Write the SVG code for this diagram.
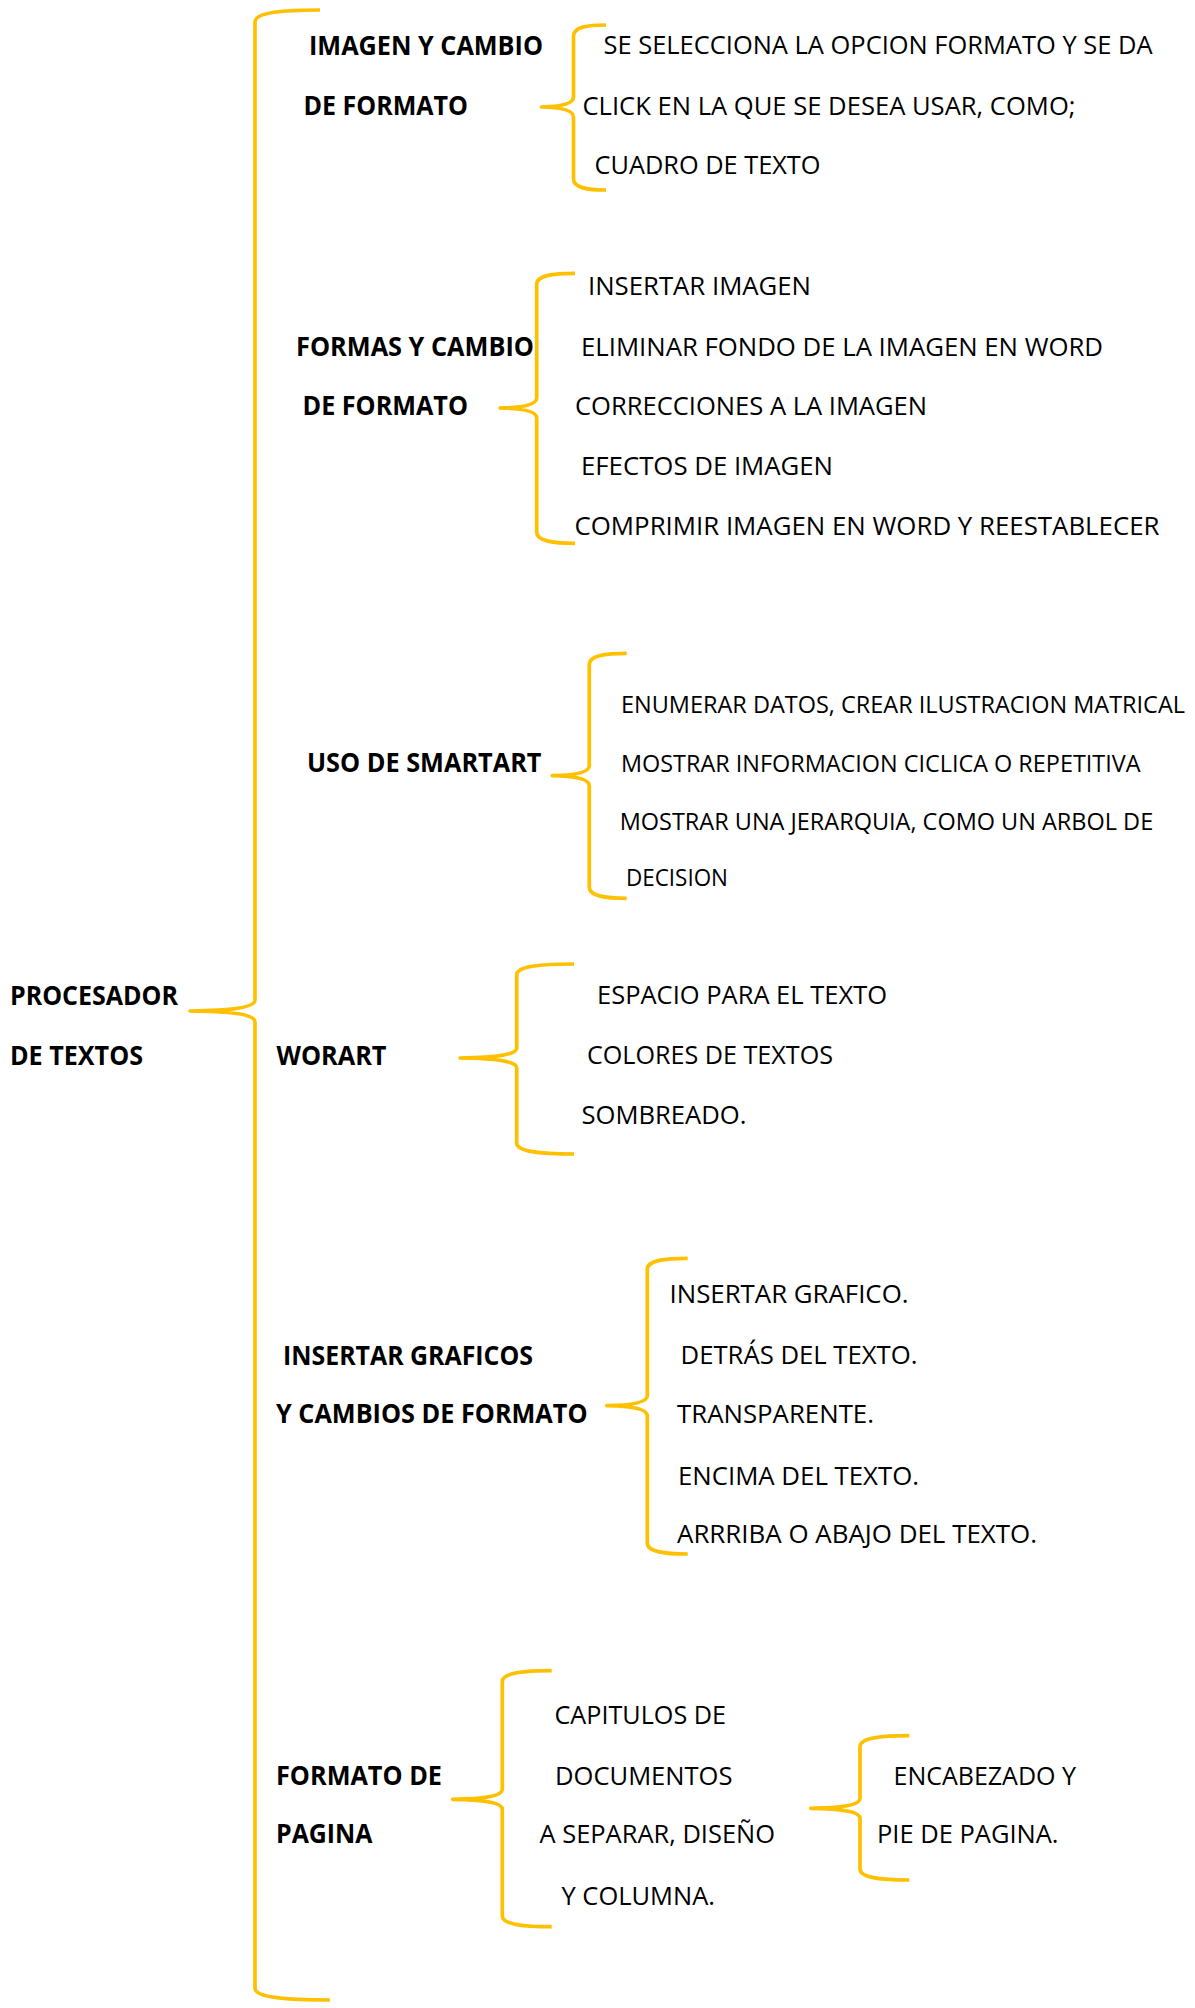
<svg xmlns="http://www.w3.org/2000/svg" width="1195" height="2008" viewBox="0 0 1195 2008">
<style>
.br{fill:none;stroke:#FFC000;stroke-width:3.7;stroke-linecap:butt;stroke-linejoin:round}
text{font-family:"Open Sans","Noto Sans","Liberation Sans",sans-serif;fill:#000}
.b{font-weight:700;font-size:26.5px}
.r{font-weight:400;font-size:26px}
.s{font-weight:400;font-size:23.5px}
</style>
<rect width="1195" height="2008" fill="#fff"/>
<g id="connectors">
<path class="br" d="M320,10 C284,10 255,12 255,22 L255,1000 C255,1007 235.5,1010.5 190,1011 C235.5,1011.5 255,1015 255,1022 L255,1988 C255,1998 288,2000 330,2000"/>
<path class="br" d="M606,25 C588,25 573.5,27 573.5,36 L573.5,97 C573.5,103 564,106.5 541.5,107 C564,107.5 573.5,111 573.5,117 L573.5,179 C573.5,188 588,190 606,190"/>
<path class="br" d="M575,273.3 C554,273.3 536.7,275.3 536.7,284.3 L536.7,398 C536.7,404 525.7,407.5 500,408 C525.7,408.5 536.7,412 536.7,418 L536.7,532.3 C536.7,541.3 554,543.3 575,543.3"/>
<path class="br" d="M626.7,653.3 C606.1,653.3 589.3,655.3 589.3,664.3 L589.3,765.7 C589.3,771.7 578.2,775.2 552.3,775.7 C578.2,776.2 589.3,779.7 589.3,785.7 L589.3,887.3 C589.3,896.3 606.1,898.3 626.7,898.3"/>
<path class="br" d="M574,964 C542.5,964 516.7,966 516.7,975 L516.7,1048 C516.7,1054 499.7,1057.5 460,1058 C499.7,1058.5 516.7,1062 516.7,1068 L516.7,1143 C516.7,1152 542.5,1154 574,1154"/>
<path class="br" d="M687.7,1258.3 C665.5,1258.3 647.3,1260.3 647.3,1269.3 L647.3,1395.7 C647.3,1401.7 635.1,1405.2 606.7,1405.7 C635.1,1406.2 647.3,1409.7 647.3,1415.7 L647.3,1543 C647.3,1552 665.5,1554 687.7,1554"/>
<path class="br" d="M551.7,1670.7 C524.5,1670.7 502.3,1672.7 502.3,1681.7 L502.3,1789.3 C502.3,1795.3 487.4,1798.8 452.7,1799.3 C487.4,1799.8 502.3,1803.3 502.3,1809.3 L502.3,1915.7 C502.3,1924.7 524.5,1926.7 551.7,1926.7"/>
<path class="br" d="M909.3,1735.7 C882.2,1735.7 860,1737.7 860,1746.7 L860,1798.3 C860,1804.3 845.2,1807.8 810.7,1808.3 C845.2,1808.8 860,1812.3 860,1818.3 L860,1869 C860,1878 882.2,1880 909.3,1880"/>
</g>
<g id="root">
<text class="b" x="10" y="1005" textLength="168" lengthAdjust="spacingAndGlyphs">PROCESADOR</text>
<text class="b" x="10" y="1065" textLength="133" lengthAdjust="spacingAndGlyphs">DE TEXTOS</text>
</g>
<g id="imagen">
<text class="b" x="309" y="55" textLength="234" lengthAdjust="spacingAndGlyphs">IMAGEN Y CAMBIO</text>
<text class="b" x="303.5" y="115" textLength="164.5" lengthAdjust="spacingAndGlyphs">DE FORMATO</text>
</g>
<g id="imagen-items">
<text class="r" x="603.5" y="54.3" textLength="549" lengthAdjust="spacingAndGlyphs">SE SELECCIONA LA OPCION FORMATO Y SE DA</text>
<text class="r" x="582.5" y="115" textLength="493" lengthAdjust="spacingAndGlyphs">CLICK EN LA QUE SE DESEA USAR, COMO;</text>
<text class="r" x="594.5" y="174.3" textLength="226" lengthAdjust="spacingAndGlyphs">CUADRO DE TEXTO</text>
</g>
<g id="formas">
<text class="b" x="296" y="356" textLength="238" lengthAdjust="spacingAndGlyphs">FORMAS Y CAMBIO</text>
<text class="b" x="302.5" y="415" textLength="165.5" lengthAdjust="spacingAndGlyphs">DE FORMATO</text>
</g>
<g id="formas-items">
<text class="r" x="588" y="295" textLength="223" lengthAdjust="spacingAndGlyphs">INSERTAR IMAGEN</text>
<text class="r" x="581" y="356" textLength="522" lengthAdjust="spacingAndGlyphs">ELIMINAR FONDO DE LA IMAGEN EN WORD</text>
<text class="r" x="575" y="415" textLength="352" lengthAdjust="spacingAndGlyphs">CORRECCIONES A LA IMAGEN</text>
<text class="r" x="581" y="475" textLength="252" lengthAdjust="spacingAndGlyphs">EFECTOS DE IMAGEN</text>
<text class="r" x="574.5" y="535" textLength="585" lengthAdjust="spacingAndGlyphs">COMPRIMIR IMAGEN EN WORD Y REESTABLECER</text>
</g>
<g id="smartart">
<text class="b" x="307" y="771.7" textLength="234.5" lengthAdjust="spacingAndGlyphs">USO DE SMARTART</text>
</g>
<g id="smartart-items">
<text class="s" x="621" y="713.3" textLength="564" lengthAdjust="spacingAndGlyphs">ENUMERAR DATOS, CREAR ILUSTRACION MATRICAL</text>
<text class="s" x="621" y="771.7" textLength="519.5" lengthAdjust="spacingAndGlyphs">MOSTRAR INFORMACION CICLICA O REPETITIVA</text>
<text class="s" x="619.7" y="830" textLength="533.5" lengthAdjust="spacingAndGlyphs">MOSTRAR UNA JERARQUIA, COMO UN ARBOL DE</text>
<text class="s" x="626" y="886" textLength="102" lengthAdjust="spacingAndGlyphs">DECISION</text>
</g>
<g id="worart">
<text class="b" x="276.5" y="1065" textLength="110" lengthAdjust="spacingAndGlyphs">WORART</text>
</g>
<g id="worart-items">
<text class="r" x="597" y="1004" textLength="290" lengthAdjust="spacingAndGlyphs">ESPACIO PARA EL TEXTO</text>
<text class="r" x="587" y="1064" textLength="246" lengthAdjust="spacingAndGlyphs">COLORES DE TEXTOS</text>
<text class="r" x="581.5" y="1124" textLength="165" lengthAdjust="spacingAndGlyphs">SOMBREADO.</text>
</g>
<g id="graficos">
<text class="b" x="283" y="1365" textLength="250" lengthAdjust="spacingAndGlyphs">INSERTAR GRAFICOS</text>
<text class="b" x="276" y="1423.3" textLength="311.5" lengthAdjust="spacingAndGlyphs">Y CAMBIOS DE FORMATO</text>
</g>
<g id="graficos-items">
<text class="r" x="669.5" y="1303.3" textLength="239" lengthAdjust="spacingAndGlyphs">INSERTAR GRAFICO.</text>
<text class="r" x="680.5" y="1364.3" textLength="237" lengthAdjust="spacingAndGlyphs">DETRÁS DEL TEXTO.</text>
<text class="r" x="677" y="1423.3" textLength="197" lengthAdjust="spacingAndGlyphs">TRANSPARENTE.</text>
<text class="r" x="678" y="1485" textLength="241" lengthAdjust="spacingAndGlyphs">ENCIMA DEL TEXTO.</text>
<text class="r" x="677" y="1543.3" textLength="360" lengthAdjust="spacingAndGlyphs">ARRRIBA O ABAJO DEL TEXTO.</text>
</g>
<g id="pagina">
<text class="b" x="276" y="1785" textLength="166" lengthAdjust="spacingAndGlyphs">FORMATO DE</text>
<text class="b" x="276" y="1843.3" textLength="96.5" lengthAdjust="spacingAndGlyphs">PAGINA</text>
</g>
<g id="pagina-items">
<text class="r" x="554.5" y="1724" textLength="171.5" lengthAdjust="spacingAndGlyphs">CAPITULOS DE</text>
<text class="r" x="555" y="1785" textLength="177.5" lengthAdjust="spacingAndGlyphs">DOCUMENTOS</text>
<text class="r" x="539.5" y="1843.3" textLength="235.5" lengthAdjust="spacingAndGlyphs">A SEPARAR, DISEÑO</text>
<text class="r" x="561.5" y="1905" textLength="153.5" lengthAdjust="spacingAndGlyphs">Y COLUMNA.</text>
</g>
<g id="encabezado">
<text class="r" x="893.5" y="1785" textLength="182.5" lengthAdjust="spacingAndGlyphs">ENCABEZADO Y</text>
<text class="r" x="877" y="1843.3" textLength="181.5" lengthAdjust="spacingAndGlyphs">PIE DE PAGINA.</text>
</g>
</svg>
